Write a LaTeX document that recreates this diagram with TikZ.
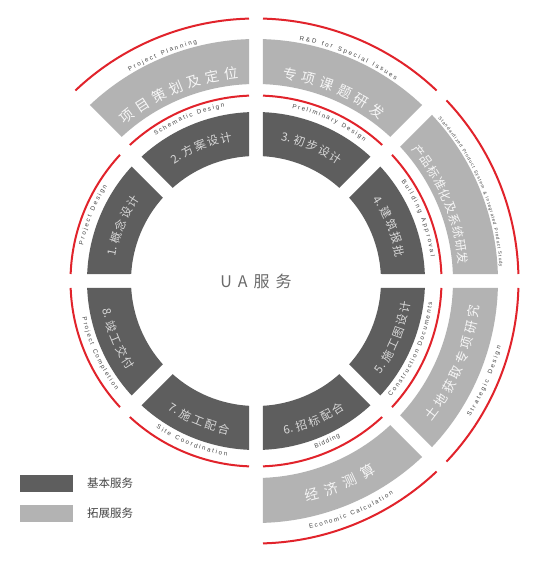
\documentclass[tikz,border=0pt]{standalone}
\usepackage{fontspec}
\newfontfamily\cjk{Noto Sans CJK SC}
\newfontfamily\eng{Liberation Sans}
\usetikzlibrary{decorations.text}
\definecolor{darkseg}{HTML}{5E5E5E}
\definecolor{lightseg}{HTML}{B3B3B3}
\definecolor{redline}{HTML}{E1232B}
\definecolor{labelgray}{HTML}{454545}
\definecolor{darktext}{HTML}{D8D8D8}
\definecolor{lighttext}{HTML}{F6F6F6}
\definecolor{centertext}{HTML}{6A6A6A}
\newcommand\gapw{7}
\newcommand\ringseg[5]{%
  \pgfmathsetmacro\dA{asin(\gapw/#3)}%
  \pgfmathsetmacro\dB{asin(\gapw/#4)}%
  \pgfmathsetmacro\sA{#1+\dA}\pgfmathsetmacro\eA{#2-\dA}%
  \pgfmathsetmacro\sB{#1+\dB}\pgfmathsetmacro\eB{#2-\dB}%
  \fill[#5] (\sA:#3pt) -- (\sB:#4pt) arc[start angle=\sB, end angle=\eB, radius=#4pt] -- (\eA:#3pt) arc[start angle=\eA, end angle=\sA, radius=#3pt] -- cycle;}
\newcommand\redarc[3]{%
  \pgfmathsetmacro\dA{asin(\gapw/#3)}%
  \pgfmathsetmacro\sA{#1+\dA}\pgfmathsetmacro\eA{#2-\dA}%
  \draw[redstroke] (\sA:#3pt) arc[start angle=\sA, end angle=\eA, radius=#3pt];}
\newcommand\chararc[8]{%
  \foreach \ch [count=\i] in {#8}{%
    \pgfmathsetmacro\ang{#2-#5*(\i-(#7+1)/2)*#4}%
    \pgfmathsetmacro\rot{\ang-#5*90}%
    \node[#6, rotate=\rot] (#1-\i) at (\ang:#3pt) {\ch};
  }}
\newcommand\lblfmt{\eng\fontsize{6.2}{7}\selectfont\color{labelgray}}
\newcommand\lblfmtsmall{\eng\fontsize{4.6}{5}\selectfont\color{labelgray}}
% #1 mid angle, #2 half span, #3 baseline radius, #4 text
\newcommand\uplabel[4]{%
  \pgfmathsetmacro\sA{#1+#2}\pgfmathsetmacro\eA{#1-#2}%
  \path[decorate, decoration={text along path, text align={fit to path}, text={#4}}] (\sA:#3pt) arc[start angle=\sA, end angle=\eA, radius=#3pt];}
\newcommand\lowlabel[4]{%
  \pgfmathsetmacro\sA{#1-#2}\pgfmathsetmacro\eA{#1+#2}%
  \path[decorate, decoration={text along path, text align={fit to path}, text={#4}}] (\sA:#3pt) arc[start angle=\sA, end angle=\eA, radius=#3pt];}
\tikzset{
  redstroke/.style={draw=redline, line width=2pt},
  darkfill/.style={fill=darkseg},
  lightfill/.style={fill=lightseg},
  darkchar/.style={inner sep=0pt, text=darktext, font=\cjk\fontsize{11.5}{13}\selectfont},
  lightchar/.style={inner sep=0pt, text=lighttext, font=\cjk\fontsize{14}{16}\selectfont},
  lightcharsmall/.style={inner sep=0pt, text=lighttext, font=\cjk\fontsize{12}{14}\selectfont},
  lightcharmid/.style={inner sep=0pt, text=lighttext, font=\cjk\fontsize{13}{15}\selectfont},
  legendbox/.style={inner sep=0pt, minimum width=53pt, minimum height=17pt, anchor=south west},
  legendtext/.style={inner sep=0pt, anchor=west, text=labelgray, font=\cjk\fontsize{11.5}{13}\selectfont}
}
\begin{document}
\begin{tikzpicture}[x=1pt,y=1pt]
\useasboundingbox (0,0) rectangle (536,563);
\fill[white] (0,0) rectangle (536,563);
\begin{scope}[shift={(256,282)}]
% basic services ring
\ringseg{135}{180}{125}{169}{darkfill}
\ringseg{90}{135}{125}{169}{darkfill}
\ringseg{45}{90}{125}{169}{darkfill}
\ringseg{0}{45}{125}{169}{darkfill}
\ringseg{-45}{0}{125}{169}{darkfill}
\ringseg{-90}{-45}{125}{169}{darkfill}
\ringseg{-135}{-90}{125}{169}{darkfill}
\ringseg{-180}{-135}{125}{169}{darkfill}
% extended services ring
\ringseg{90}{135}{197}{242}{lightfill}
\ringseg{45}{90}{197}{242}{lightfill}
\ringseg{0}{45}{197}{242}{lightfill}
\ringseg{-45}{0}{197}{242}{lightfill}
\ringseg{-90}{-45}{197}{242}{lightfill}
% inner red arcs
\redarc{135}{180}{185.5}
\redarc{90}{135}{185.5}
\redarc{45}{90}{185.5}
\redarc{0}{45}{185.5}
\redarc{-45}{0}{185.5}
\redarc{-90}{-45}{185.5}
\redarc{-135}{-90}{185.5}
\redarc{-180}{-135}{185.5}
% outer red arcs
\redarc{90}{135}{262.5}
\redarc{45}{90}{262.5}
\redarc{0}{45}{262.5}
\redarc{-45}{0}{262.5}
\redarc{-90}{-45}{262.5}
% Chinese texts, basic
\chararc{b1}{157.5}{146.5}{5.3}{1}{darkchar}{5}{1.,概,念,设,计}
\chararc{b2}{112.5}{146.5}{5.3}{1}{darkchar}{5}{2.,方,案,设,计}
\chararc{b3}{67.5}{146.5}{5.3}{1}{darkchar}{5}{3.,初,步,设,计}
\chararc{b4}{22.5}{146.5}{5.3}{1}{darkchar}{5}{4.,建,筑,报,批}
\chararc{b5}{-22.5}{151.5}{5.0}{-1}{darkchar}{6}{5.,施,工,图,设,计}
\chararc{b6}{-67.5}{151.5}{5.1}{-1}{darkchar}{5}{6.,招,标,配,合}
\chararc{b7}{-112.5}{151.5}{5.1}{-1}{darkchar}{5}{7.,施,工,配,合}
\chararc{b8}{-157.5}{151.5}{5.1}{-1}{darkchar}{5}{8.,竣,工,交,付}
% Chinese texts, extended
\chararc{e1}{112.5}{209}{5.2}{1}{lightchar}{7}{项,目,策,划,及,定,位}
\chararc{e2}{67.5}{209}{5.2}{1}{lightchar}{6}{专,项,课,题,研,发}
\chararc{e3}{22.5}{208}{3.6}{1}{lightcharsmall}{10}{产,品,标,准,化,及,系,统,研,发}
\chararc{e4}{-22.5}{220}{4.15}{-1}{lightcharmid}{8}{土,地,获,取,专,项,研,究}
\chararc{e5}{-67.5}{221}{5.2}{-1}{lightchar}{4}{经,济,测,算}
% English labels, basic
\uplabel{157.9}{10.4}{176.5}{|\lblfmt|Project Design}
\uplabel{112.5}{12.2}{176.5}{|\lblfmt|Schematic Design}
\uplabel{65.2}{13}{176.5}{|\lblfmt|Preliminary Design}
\uplabel{21.2}{13.3}{176.5}{|\lblfmt|Building Approval}
\lowlabel{-23.7}{16.8}{177.5}{|\lblfmt|Construction Documents}
\lowlabel{-66.1}{4.4}{177.5}{|\lblfmt|Bidding}
\lowlabel{-111.8}{12.4}{177.5}{|\lblfmt|Site Coordination}
\lowlabel{-155.1}{13}{177.5}{|\lblfmt|Project Completion}
% English labels, extended
\uplabel{112.5}{8.6}{244.5}{|\lblfmt|Project Planning}
\uplabel{67.5}{12.3}{244.5}{|\lblfmt|R{\&}D for Special Issues}
\uplabel{22.5}{19.2}{244}{|\lblfmtsmall|Standardized Product System {\&} Integrated Product Study}
\lowlabel{-23.7}{8.7}{253.5}{|\lblfmt|Strategic Design}
\lowlabel{-67.5}{10.3}{253.5}{|\lblfmt|Economic Calculation}
% centre
\node[inner sep=0pt, text=centertext, font=\cjk\fontsize{16}{18}\selectfont] (centre) at (0,0) {U\hspace{6pt}A\hspace{6pt}服\hspace{6pt}务};
\end{scope}
% legend
\node[legendbox, fill=darkseg] (legdark) at (20,71) {};
\node[legendbox, fill=lightseg] (leglight) at (20,41) {};
\node[legendtext] (legdarktext) at (87,79.5) {基本服务};
\node[legendtext] (leglighttext) at (87,49.5) {拓展服务};
\end{tikzpicture}
\end{document}
